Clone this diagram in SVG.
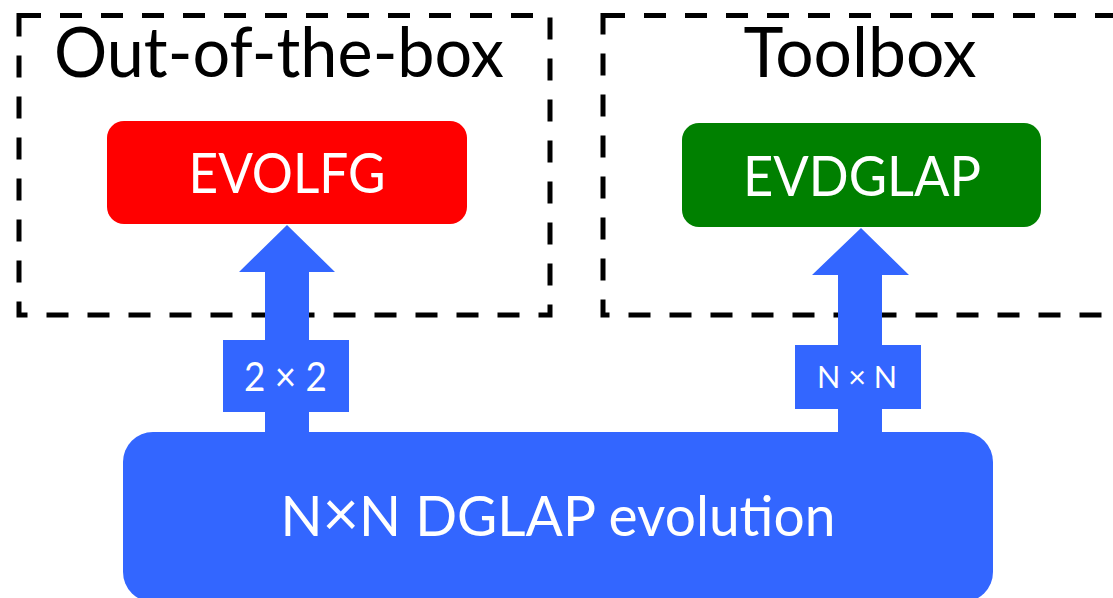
<svg xmlns="http://www.w3.org/2000/svg" width="1113" height="598" viewBox="0 0 1113 598">
  <style>
    .frame { fill: none; stroke: #000; stroke-width: 5; stroke-dasharray: 22 19; }
    .title { font-family: Lato, "Open Sans", sans-serif; font-size: 70px; fill: #000; text-anchor: middle; }
    .label { font-family: Lato, "Open Sans", sans-serif; fill: #fff; text-anchor: middle; }
    .flow { fill: #3366FF; }
  </style>

  <!-- dashed grouping frames -->
  <g id="frame-outofbox">
    <rect class="frame" x="19" y="15.5" width="531" height="299.5"/>
    <text class="title" x="279" y="77" textLength="450" lengthAdjust="spacingAndGlyphs">Out-of-the-box</text>
  </g>
  <g id="frame-toolbox">
    <rect class="frame" x="603" y="15.5" width="530" height="299.5"/>
    <text class="title" x="860" y="77" textLength="233" lengthAdjust="spacingAndGlyphs">Toolbox</text>
  </g>

  <!-- connectors: block arrows from the evolution core up to the packages -->
  <g id="connectors">
    <polygon class="flow" points="265,440 265,272 239,272 287,225 335,272 309,272 309,440"/>
    <polygon class="flow" points="838,440 838,275 812,275 861,228 909,275 882,275 882,440"/>
    <g id="tag-2x2">
      <rect class="flow" x="223" y="340" width="126" height="72"/>
      <text class="label" x="285.5" y="391" font-size="40" textLength="83" lengthAdjust="spacingAndGlyphs">2 × 2</text>
    </g>
    <g id="tag-NxN">
      <rect class="flow" x="795" y="345" width="126" height="64"/>
      <text class="label" x="857" y="388" font-size="31" textLength="80" lengthAdjust="spacingAndGlyphs">N × N</text>
    </g>
  </g>

  <g id="node-evolfg">
    <rect x="107" y="121" width="360" height="103" rx="17" fill="#FF0000"/>
    <text class="label" x="287" y="193" font-size="56" textLength="197" lengthAdjust="spacingAndGlyphs">EVOLFG</text>
  </g>

  <g id="node-evdglap">
    <rect x="682" y="123" width="359" height="104" rx="17" fill="#008000"/>
    <text class="label" x="862" y="196" font-size="56" textLength="238" lengthAdjust="spacingAndGlyphs">EVDGLAP</text>
  </g>

  <g id="node-dglap">
    <rect class="flow" x="123" y="432" width="870" height="170" rx="30"/>
    <text class="label" x="558" y="536" font-size="56" textLength="555" lengthAdjust="spacingAndGlyphs">N<tspan font-size="64">×</tspan>N DGLAP evolution</text>
  </g>
</svg>
